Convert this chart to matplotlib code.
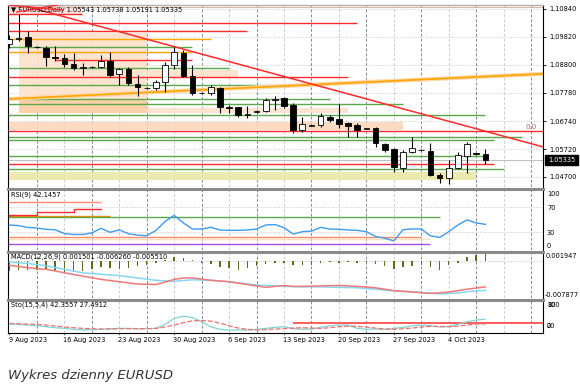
import matplotlib
matplotlib.use("Agg")
import matplotlib.pyplot as plt
import matplotlib.transforms as mtrans
from matplotlib.patches import Rectangle

W, H = 580, 386

# daily EURUSD candles, 9 Aug - 9 Oct 2023 (Sunday bars included)
opens = [1.0955, 1.0973, 1.0980, 1.0946, 1.0942, 1.0907, 1.0905, 1.0883, 1.0869, 1.0872,
         1.0872, 1.0894, 1.0845, 1.0864, 1.0810, 1.0797, 1.0795, 1.0817, 1.0879, 1.0924,
         1.0839, 1.0777, 1.0777, 1.0795, 1.0725, 1.0724, 1.0698, 1.0708, 1.0712, 1.0751,
         1.0757, 1.0733, 1.0642, 1.0658, 1.0660, 1.0691, 1.0681, 1.0666, 1.0659, 1.0646,
         1.0648, 1.0591, 1.0572, 1.0503, 1.0562, 1.0568, 1.0566, 1.0478, 1.0466, 1.0503,
         1.0548, 1.0556, 1.05543]
highs = [1.0988, 1.1065, 1.1004, 1.0950, 1.0950, 1.0947, 1.0920, 1.0923, 1.0887, 1.0874,
         1.0916, 1.0927, 1.0868, 1.0872, 1.0841, 1.0799, 1.0825, 1.0890, 1.0945, 1.0934,
         1.0881, 1.0779, 1.0806, 1.0799, 1.0733, 1.0726, 1.0730, 1.0714, 1.0759, 1.0767,
         1.0762, 1.0740, 1.0689, 1.0662, 1.0704, 1.0697, 1.0737, 1.0671, 1.0667, 1.0650,
         1.0653, 1.0594, 1.0576, 1.0570, 1.0617, 1.0572, 1.0594, 1.0485, 1.0532, 1.0561,
         1.0598, 1.0558, 1.05738]
lows = [1.0941, 1.0966, 1.0924, 1.0942, 1.0877, 1.0895, 1.0872, 1.0861, 1.0843, 1.0869,
        1.0868, 1.0836, 1.0806, 1.0806, 1.0765, 1.0793, 1.0788, 1.0781, 1.0866, 1.0836,
        1.0770, 1.0774, 1.0770, 1.0704, 1.0704, 1.0689, 1.0686, 1.0705, 1.0708, 1.0715,
        1.0722, 1.0631, 1.0634, 1.0656, 1.0653, 1.0671, 1.0649, 1.0616, 1.0615, 1.0644,
        1.0580, 1.0561, 1.0488, 1.0490, 1.0558, 1.0566, 1.0474, 1.0448, 1.0446, 1.0499,
        1.0483, 1.0551, 1.05191]
closes = [1.0973, 1.0979, 1.0948, 1.0945, 1.0907, 1.0905, 1.0883, 1.0869, 1.0873, 1.0871,
          1.0894, 1.0843, 1.0863, 1.0813, 1.0798, 1.0795, 1.0817, 1.0879, 1.0925, 1.0839,
          1.0777, 1.0776, 1.0799, 1.0726, 1.0723, 1.0697, 1.0700, 1.0712, 1.0751, 1.0756,
          1.0730, 1.0642, 1.0663, 1.0660, 1.0692, 1.0680, 1.0664, 1.0656, 1.0643, 1.0648,
          1.0594, 1.0569, 1.0505, 1.0561, 1.0575, 1.0570, 1.0478, 1.0467, 1.0503, 1.0550,
          1.0591, 1.0554, 1.05335]

date_labels = ["9 Aug 2023", "16 Aug 2023", "23 Aug 2023", "30 Aug 2023", "6 Sep 2023",
               "13 Sep 2023", "20 Sep 2023", "27 Sep 2023", "4 Oct 2023"]
date_bars = [0, 6, 12, 18, 24, 30, 36, 42, 48]

price_ticks = [1.10840, 1.09820, 1.08800, 1.07780, 1.06740, 1.05720, 1.04700]

rsi = [41, 40, 37, 36, 34, 33, 27, 25.5, 25.5, 28, 35.5, 29, 33, 26.7, 24.4, 23.3, 32, 46.7,
       56.7, 44.4, 34.4, 34.4, 37.2, 32.8, 32.2, 32.2, 32.8, 34.4, 41, 41.7, 36.7, 26, 30, 31,
       37, 34.4, 34, 32.8, 32.2, 30, 22.2, 19.4, 15, 33.3, 34.4, 34.4, 23.3, 20.6, 30, 41,
       49.4, 44.4, 42.1]

macd_hist = [-2.2, -2.0, -2.0, -1.8, -2.0, -2.1, -2.4, -2.4, -2.2, -1.7, -1.2, -1.4, -1.7,
             -1.5, -1.1, -0.8, -0.4, 0.3, 0.8, 0.7, 0.2, -0.3, -0.7, -1.2, -1.5, -1.8, -1.5,
             -1.1, -0.7, -0.4, -0.5, -0.9, -0.8, -0.9, -0.3, -0.2, -0.3, -0.2, -0.3, -0.5,
             -0.7, -1.0, -1.7, -1.2, -1.0, -0.9, -1.3, -1.8, -0.9, -0.3, 0.9, 1.4, 1.5]
macd_cyan = [-0.2, -0.35, -0.5, -0.75, -1.0, -1.4, -1.75, -2.1, -2.5, -2.65, -2.8, -2.95, -3.1,
             -3.35, -3.6, -3.85, -4.1, -4.2, -4.3, -4.15, -4.0, -4.05, -4.1, -4.25, -4.4, -4.65,
             -4.9, -5.1, -5.2, -5.3, -5.4, -5.45, -5.5, -5.5, -5.5, -5.55, -5.6, -5.65, -5.7,
             -5.85, -6.0, -6.2, -6.35, -6.45, -6.5, -6.7, -6.85, -7.0, -6.9, -6.8, -6.55, -6.35,
             -6.26]
macd_red = [-0.9, -1.15, -1.4, -1.6, -1.75, -2.1, -2.5, -2.85, -3.2, -3.55, -3.9, -4.15, -4.4,
            -4.65, -4.9, -4.95, -5.0, -4.5, -3.9, -3.6, -3.6, -3.85, -4.1, -4.25, -4.4, -4.7,
            -5.0, -5.3, -5.6, -5.4, -5.2, -5.4, -5.4, -5.35, -5.3, -5.25, -5.2, -5.3, -5.4,
            -5.55, -5.7, -6.0, -6.3, -6.45, -6.6, -6.75, -6.9, -6.75, -6.6, -6.3, -6.0, -5.75,
            -5.51]

sto_main = [27, 26, 24, 22, 19, 16, 14, 11, 9, 10, 11, 13, 14, 14, 13, 13, 14, 26, 44, 51, 47,
            34, 19, 11, 9, 9, 9, 11, 14, 17, 19, 13, 11, 12, 17, 22, 24, 24, 14, 11, 12, 11,
            14, 17, 22, 24, 22, 18, 20, 26, 34, 39, 42.4]
sto_signal = [29, 28, 27, 26, 24, 21, 18, 16, 14, 13, 12, 12, 13, 13, 13, 13, 14, 18, 24, 31,
              37, 38, 36, 30, 22, 15, 11, 9, 10, 12, 13, 15, 16, 15, 14, 16, 19, 21, 20, 18,
              15, 12, 11, 13, 15, 18, 20, 20, 19, 21, 24, 27, 27.5]

# drawn objects: (price, from bar, to bar, colour)
RED, GREEN, ORANGE = "#ff2a2a", "#5aa84a", "#ffa500"
hlines = [(1.1033, -1, 38, RED), (1.1004, -1, 26, RED), (1.0974, -1, 22, ORANGE),
          (1.0945, -1, 20, GREEN), (1.0927, -1, 20, ORANGE), (1.0898, 5, 20, RED),
          (1.0868, -1, 24, GREEN), (1.0836, -1, 37, RED), (1.0806, -1, 32, GREEN),
          (1.0755, -1, 35, GREEN), (1.0737, -1, 43, GREEN), (1.0697, -1, 52, GREEN),
          (1.0638, -1, 60, RED), (1.0616, -1, 56, GREEN), (1.0605, -1, 53, GREEN),
          (1.0547, -1, 52, GREEN), (1.0518, -1, 53, RED), (1.0499, -1, 54, GREEN)]
zones = [(1.0704, 1.0996, 1, 15, "#fde2cc"), (1.0704, 1.0751, 1, 15, "#fbcfa6"),
         (1.0704, 1.0722, 15, 37, "#fde2cc"), (1.0836, 1.0861, 15, 25, "#fde2cc"),
         (1.0642, 1.0671, -1, 43, "#fdd8bc"), (1.0459, 1.0488, -1, 51, "#ece8a8")]
red_trend_x, red_trend_y = [1.0, 58.3], [1.1101, 1.0580]
orange_trend_x, orange_trend_y = [-0.2, 58.3], [1.0755, 1.0847]

rsi_lines = [(78, -1, 10, "#ff8a6a"), (55.5, -1, 11, "#ff8c00"), (53.8, -1, 47, GREEN),
             (21.7, -1, 45, "#ff8a6a"), (18.8, -1, 46, "#fde0c0"), (10.5, -1, 46, "#a64de6")]
rsi_step_x, rsi_step_y = [-1, 3, 3, 7, 7, 10], [58, 58, 62, 62, 67, 67]

fig = plt.figure(figsize=(W / 100, H / 100), dpi=100)
fig.patch.set_facecolor("white")


def px_axes(x0, y0, x1, y1):
    return fig.add_axes([x0 / W, 1 - y1 / H, (x1 - x0) / W, (y1 - y0) / H])


ax = px_axes(8, 5, 543, 187)
ax_rsi = px_axes(8, 189, 543, 250)
ax_macd = px_axes(8, 252, 543, 298)
ax_sto = px_axes(8, 300, 543, 333)
panels = [ax, ax_rsi, ax_macd, ax_sto]

n = len(closes)
bars = list(range(n))
XL = (-0.16, 58.3)

for a in panels:
    a.set_xlim(*XL)
    a.set_xticks([])
    a.set_yticks([])
    for s in ["left", "right"]:
        a.spines[s].set_color("black")
        a.spines[s].set_linewidth(0.8)
    a.spines["bottom"].set_visible(False)
    a.spines["top"].set_color("#8a8a8a")
    a.spines["top"].set_linewidth(2.2)
    for g in range(3, 59, 3):
        col = "#7d8ca3" if (g - 3) % 6 == 0 else "#c5cdd8"
        a.axvline(g, color=col, lw=0.7, ls=(0, (3, 2)), zorder=0.5)
ax.spines["top"].set_color("#b0b0b0")
ax.spines["top"].set_linewidth(1)
ax_sto.spines["bottom"].set_visible(True)
ax_sto.spines["bottom"].set_linewidth(0.8)

# ---- main price panel
ax.set_ylim(1.04334, 1.10986)
for p in price_ticks:
    ax.axhline(p, color="#c8c8c8", lw=0.7, ls=":", zorder=0.5)
ax.yaxis.tick_right()
ax.set_yticks(price_ticks)
ax.set_yticklabels(["%.5f" % p for p in price_ticks])
ax.tick_params(axis="y", length=2.5, width=0.6, labelsize=4.8, pad=2)

for lo, hi, x0, x1, col in zones:
    ax.add_patch(Rectangle((x0, lo), x1 - x0, hi - lo, color=col, lw=0, zorder=1, alpha=0.9))
for p, x0, x1, col in hlines:
    ax.hlines(p, x0, x1, color=col, lw=1.0, zorder=2)
ax.plot(orange_trend_x, orange_trend_y, color="#fdd6a8", lw=3, zorder=2)
ax.plot(orange_trend_x, orange_trend_y, color=ORANGE, lw=1.2, zorder=2.1)
ax.plot(red_trend_x, red_trend_y, color=RED, lw=1.1, zorder=2.2)
ax.axhline(closes[-1], color="#c0c0c0", lw=0.8, zorder=1.5)
ax.axhline(1.10914, color="#d9b9a0", lw=0.8, zorder=1.5)
ax.text(57.6, 1.0643, "0.0", color="#c0604a", fontsize=5, ha="right", va="bottom")

# header block with crossed red lines
ax.add_patch(Rectangle((-0.2, 1.1066), 8.1, 0.0033, color="#fde0e0", lw=0, zorder=1.2))
ax.text(0.2, 1.1080, "\u25bc EURUSD,Daily 1.05543 1.05738 1.05191 1.05335", fontsize=4.8,
        va="center", zorder=5)
ax.hlines(1.1066, -0.2, 7.9, color=RED, lw=1.0, zorder=6)
ax.plot([0.0, 5.8], [1.1098, 1.1080], color=RED, lw=1.0, zorder=6)
ax.plot([0.8, 5.5], [1.1073, 1.1100], color=RED, lw=1.0, zorder=6)

# candles
for i in bars:
    o, h, l, c = opens[i], highs[i], lows[i], closes[i]
    ax.vlines(i, l, h, color="black", lw=0.8, zorder=3)
    body = max(abs(c - o), 0.00004)
    face = "white" if c >= o else "black"
    ax.add_patch(Rectangle((i - 0.31, min(o, c)), 0.62, body, facecolor=face,
                           edgecolor="black", lw=0.6, zorder=4))

# current price box
fig.add_artist(Rectangle((545 / W, 1 - 165 / H), 33 / W, 10.5 / H, transform=fig.transFigure,
                         color="black"))
fig.text(561.5 / W, 1 - 159.8 / H, "%.5f" % closes[-1], color="white", fontsize=4.8,
         ha="center", va="center")

# ---- RSI
ax_rsi.set_ylim(0, 100)
for lv in [70, 30]:
    ax_rsi.axhline(lv, color="#c8c8c8", lw=0.7, ls=":", zorder=0.5)
for lv, x0, x1, col in rsi_lines:
    ax_rsi.hlines(lv, x0, x1, color=col, lw=1.0, zorder=2)
ax_rsi.plot(rsi_step_x, rsi_step_y, color=RED, lw=1.0, zorder=2)
ax_rsi.plot(bars, rsi, color="#3d9bf0", lw=1.0, zorder=3)

# ---- MACD
ax_macd.set_ylim(-0.007877, 0.001947)
ax_macd.axhline(0, color="#c0c0c0", lw=0.7, ls=":", zorder=0.5)
ax_macd.bar(bars, [v / 1000 for v in macd_hist], width=0.16, color="#5b6e1e", zorder=2)
ax_macd.plot(bars, [v / 1000 for v in macd_cyan], color="#86d8f2", lw=1.1, zorder=3)
ax_macd.plot(bars, [v / 1000 for v in macd_red], color="#f27878", lw=1.1, zorder=3)

# ---- Stochastic
ax_sto.set_ylim(0, 100)
ax_sto.hlines(29, 31, 60, color="#ff5050", lw=1.3, zorder=2)
ax_sto.plot(bars, sto_main, color="#7fd3d3", lw=0.9, zorder=3)
ax_sto.plot(bars, sto_signal, color="#f07070", lw=0.9, zorder=3, ls=(0, (4, 1.5)))

# ---- texts
def ftext(x, y, s, **kw):
    fig.text(x / W, 1 - y / H, s, fontsize=4.8, va="center", **kw)


ftext(11, 195, "RSI(9) 42.1457")
ftext(11, 257, "MACD(12,26,9) 0.001501 -0.006260 -0.005510")
ftext(11, 305, "Sto(15,5,4) 42.3557 27.4912")
ftext(547, 194, "100")
ftext(547, 208, "70")
ftext(547, 233, "30")
ftext(547, 246, "0")
ftext(546, 256, "0.001947")
ftext(545, 295, "-0.007877")
ftext(547, 305, "100")
ftext(547, 305, "80")
ftext(547, 326, "20")
ftext(547, 326, "0")

tr = mtrans.blended_transform_factory(ax_sto.transData, fig.transFigure)
for b, lab in zip(date_bars, date_labels):
    ax_sto.text(b - 0.1, 1 - 340 / H, lab, transform=tr, fontsize=4.8, ha="left", va="center")
    ax_sto.plot([b, b], [0, -4], color="black", lw=0.6, clip_on=False)

fig.text(8 / W, 1 - 375 / H, "Wykres dzienny EURUSD", fontsize=9.5, style="italic",
         color="#333333", va="center")

fig.savefig("out.png", dpi=100)
